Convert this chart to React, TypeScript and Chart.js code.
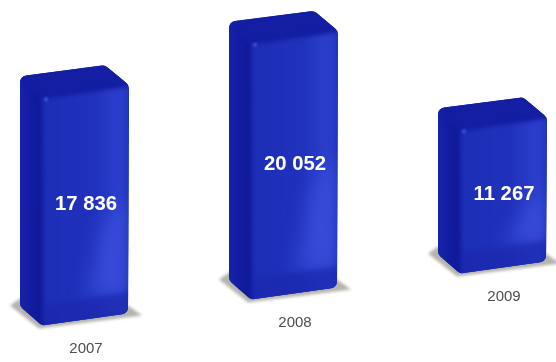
import React, { useEffect, useRef } from "react";
import { Chart, registerables } from "chart.js";

Chart.register(...registerables);

const years = ["2007", "2008", "2009"];
const revenue = [17836, 20052, 11267];
const revenueLabels = ["17 836", "20 052", "11 267"];

// The floor of the scene climbs to the right; every column sits on that slope.
const FLOOR_SLOPE = -0.1244;

type Pt = [number, number];

function trace(ctx: CanvasRenderingContext2D, pts: Pt[]) {
  ctx.beginPath();
  ctx.moveTo(pts[0][0], pts[0][1]);
  pts.slice(1).forEach((p) => ctx.lineTo(p[0], p[1]));
  ctx.closePath();
}

function traceRounded(ctx: CanvasRenderingContext2D, pts: Pt[], r: number) {
  const n = pts.length;
  const a = pts[n - 1];
  const b = pts[0];
  ctx.beginPath();
  ctx.moveTo((a[0] + b[0]) / 2, (a[1] + b[1]) / 2);
  for (let i = 0; i < n; i++) {
    const p = pts[i];
    const q = pts[(i + 1) % n];
    ctx.arcTo(p[0], p[1], (p[0] + q[0]) / 2, (p[1] + q[1]) / 2, r);
  }
  ctx.closePath();
}

function drawColumn(ctx: CanvasRenderingContext2D, cx: number, top: number, bottom: number) {
  const halfW = 44;
  const tilt = 6.5;
  const flt: Pt = [cx - halfW, top + tilt];
  const rt: Pt = [cx + halfW, top - tilt];
  const rb: Pt = [cx + halfW - 1, bottom - tilt];
  const flb: Pt = [cx - halfW + 1, bottom + tilt - 1];
  const lt: Pt = [flt[0] - 21, flt[1] - 22];
  const bt: Pt = [lt[0] + 85, lt[1] - 11];
  const lb: Pt = [flb[0] - 22, flb[1] - 19];

  // Ground shadow under the column
  ctx.save();
  ctx.filter = "blur(1.5px)";
  ctx.fillStyle = "#b4b4ac";
  trace(ctx, [
    [lb[0] - 10, lb[1] - 1],
    [flb[0] - 3, flb[1] + 3],
    [rb[0] + 14, rb[1] + 2],
    [rb[0], rb[1] - 8],
    [lb[0], lb[1] - 8],
  ]);
  ctx.fill();
  ctx.restore();

  ctx.save();
  ctx.filter = "blur(0.7px)";
  ctx.fillStyle = "#141fa4";
  traceRounded(ctx, [lt, bt, rt, rb, flb, lb], 7);
  ctx.fill();
  ctx.filter = "none";
  traceRounded(ctx, [lt, bt, rt, rb, flb, lb], 7);
  ctx.clip();
  ctx.filter = "blur(2px)";

  // Front face
  const front = ctx.createLinearGradient(flt[0], 0, rt[0], 0);
  front.addColorStop(0, "#1c2db6");
  front.addColorStop(0.6, "#2032bc");
  front.addColorStop(0.85, "#2a3ecb");
  front.addColorStop(0.95, "#2a3cc6");
  front.addColorStop(1, "#2233bb");
  ctx.fillStyle = front;
  trace(ctx, [[flt[0], flt[1]], [rt[0] + 8, rt[1]], [rb[0] + 8, rb[1] + 8], [flb[0], flb[1] + 8]]);
  ctx.fill();

  // Soft sheen toward the lower right of the front face
  ctx.filter = "blur(9px)";
  ctx.fillStyle = "rgba(70,95,235,0.45)";
  trace(ctx, [
    [cx + 18, (top + bottom) / 2 + 20],
    [rt[0] - 2, (top + bottom) / 2 - 10],
    [rb[0] - 2, rb[1] - 22],
    [cx, bottom - 22],
  ]);
  ctx.fill();
  ctx.filter = "blur(2px)";

  // Darker band along the foot of the front face
  ctx.fillStyle = "rgba(26,38,172,0.6)";
  trace(ctx, [[flb[0] - 2, flb[1] - 20], [rb[0] + 6, rb[1] - 22], [rb[0] + 6, rb[1] + 8], [flb[0] - 2, flb[1] + 8]]);
  ctx.fill();

  // Left face
  const side = ctx.createLinearGradient(lt[0], 0, flt[0], 0);
  side.addColorStop(0, "#1722ac");
  side.addColorStop(1, "#0f1896");
  ctx.fillStyle = side;
  trace(ctx, [[lt[0] - 6, lt[1] - 6], [flt[0], flt[1]], [flb[0], flb[1] + 2], [lb[0] - 6, lb[1] + 4]]);
  ctx.fill();

  // Top face
  ctx.fillStyle = "#131ea2";
  trace(ctx, [[lt[0] - 6, lt[1] - 6], [bt[0] + 2, bt[1] - 6], [rt[0] + 6, rt[1] - 2], [flt[0], flt[1]]]);
  ctx.fill();
  ctx.filter = "blur(0.8px)";

  // Small highlight on the corner where the three faces meet
  ctx.fillStyle = "#4058d8";
  ctx.beginPath();
  ctx.arc(flt[0] + 5, flt[1] + 1, 2, 0, Math.PI * 2);
  ctx.fill();
  ctx.restore();
}

const columnsPlugin = {
  id: "columns",
  afterDatasetsDraw(chart: any) {
    const ctx: CanvasRenderingContext2D = chart.ctx;
    const meta = chart.getDatasetMeta(0);
    const xScale = chart.scales.x;
    const x0 = xScale.getPixelForValue(0);
    meta.data.forEach((bar: any, i: number) => {
      const rise = FLOOR_SLOPE * (bar.x - x0);
      const top = bar.y + rise;
      const bottom = bar.base + rise;
      drawColumn(ctx, bar.x, top, bottom);

      ctx.save();
      ctx.textAlign = "center";
      ctx.textBaseline = "middle";
      ctx.fillStyle = "#ffffff";
      ctx.font = "bold 20.3px 'Liberation Sans'";
      ctx.filter = "blur(0.3px)";
      ctx.fillText(revenueLabels[i], bar.x + 1, (top + bottom) / 2 - 1);

      ctx.fillStyle = "#4e4e4e";
      ctx.font = "15px 'Liberation Sans'";
      ctx.filter = "blur(0.6px)";
      ctx.fillText(xScale.getLabelForValue(i), bar.x + 1, bottom + 29);
      ctx.restore();
    });
  },
};

export default function App() {
  const ref = useRef<HTMLCanvasElement>(null);

  useEffect(() => {
    const chart = new Chart(ref.current!, {
      type: "bar",
      data: {
        labels: years,
        datasets: [
          {
            data: revenue,
            backgroundColor: "transparent",
            barThickness: 88,
          },
        ],
      },
      options: {
        animation: false,
        responsive: false,
        layout: { padding: { left: 85, right: 53, top: 0, bottom: 42 } },
        plugins: { legend: { display: false }, tooltip: { enabled: false } },
        scales: {
          x: { display: false, offset: false },
          y: { display: false, min: 0, max: 25000 },
        },
      },
      plugins: [columnsPlugin],
    });
    return () => chart.destroy();
  }, []);

  return (
    <div style={{ position: "fixed", left: 0, top: 0, width: 556, height: 362, background: "#fff" }}>
      <canvas ref={ref} width={556} height={362} style={{ display: "block" }} />
    </div>
  );
}
